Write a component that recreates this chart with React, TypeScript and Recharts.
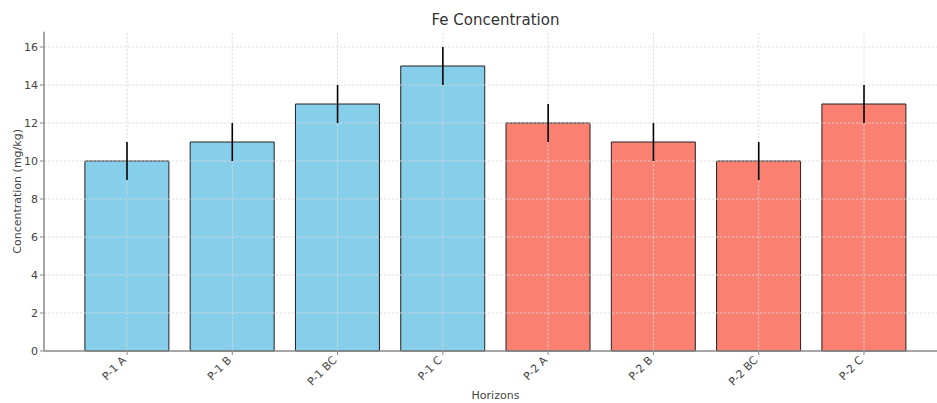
import React from 'react';
import { ComposedChart, Bar, XAxis, YAxis, Scatter, ErrorBar, Cell, ReferenceLine } from 'recharts';

const categories = ['P-1 A', 'P-1 B', 'P-1 BC', 'P-1 C', 'P-2 A', 'P-2 B', 'P-2 BC', 'P-2 C'];
const values = [10, 11, 13, 15, 12, 11, 10, 13];
const errors = [1, 1, 1, 1, 1, 1, 1, 1];
const colors = ['#87CEEB', '#87CEEB', '#87CEEB', '#87CEEB', '#FA8072', '#FA8072', '#FA8072', '#FA8072'];
const yTicks = [0, 2, 4, 6, 8, 10, 12, 14, 16];

const data = categories.map((c, i) => ({ name: c, value: values[i], err: errors[i] }));

const FONT = '"DejaVu Sans", sans-serif';
const TEXT = '#444';
const GRID = '#d8d8d8';

const XTick = (props: any) => {
  const { x, y, payload } = props;
  return (
    <g transform={`translate(${x - 3},${y + 1})`}>
      <text x={0} y={0} dy={4} textAnchor="end" transform="rotate(-45)" fontSize={11} fill={TEXT} fontFamily={FONT}>
        {payload.value}
      </text>
    </g>
  );
};

const NoDot = () => null;

export default function App() {
  return (
    <div style={{ position: 'fixed', left: 0, top: 0, width: 937, height: 403, overflow: 'hidden', background: '#fff' }}>
      <div style={{ position: 'absolute', left: 44, width: 903, top: 11, textAlign: 'center', fontFamily: FONT, fontSize: 15, color: '#333' }}>
        Fe Concentration
      </div>
      <ComposedChart width={947} height={403} data={data} margin={{ top: 31.8, right: 0, bottom: 0, left: 0 }} barCategoryGap="10%">
        <XAxis
          dataKey="name"
          height={52}
          padding={{ left: 30.35, right: 30.35 }}
          tick={<XTick />}
          tickSize={4}
          stroke="#888"
          strokeWidth={1.5}
          tickLine={{ stroke: '#888', strokeWidth: 1 }}
          interval={0}
          label={{
            content: (p: any) => {
              const vb = p.viewBox;
              return (
                <text x={vb.x + vb.width / 2} y={vb.y + vb.height - 4} textAnchor="middle" fontSize={11} fill={TEXT} fontFamily={FONT}>
                  Horizons
                </text>
              );
            },
          }}
        />
        <YAxis
          width={44}
          domain={[0, 16.8]}
          ticks={yTicks}
          tickSize={4}
          stroke="#888"
          strokeWidth={1.5}
          tickLine={{ stroke: '#888', strokeWidth: 1 }}
          tick={{ fontSize: 11, fill: TEXT, fontFamily: FONT }}
          label={{
            content: (p: any) => {
              const vb = p.viewBox;
              const cx = 17;
              const cy = vb.y + vb.height / 2;
              return (
                <text x={cx} y={cy} textAnchor="middle" transform={`rotate(-90, ${cx}, ${cy})`} dy={4} fontSize={11} fill={TEXT} fontFamily={FONT}>
                  Concentration (mg/kg)
                </text>
              );
            },
          }}
        />
        <Bar dataKey="value" isAnimationActive={false} stroke="#222" strokeWidth={1}>
          {data.map((d, i) => (
            <Cell key={d.name} fill={colors[i]} />
          ))}
        </Bar>
        {yTicks.slice(1).map((t) => (
          <ReferenceLine key={'y' + t} y={t} stroke={GRID} strokeDasharray="2.5 1.5" strokeWidth={0.8} />
        ))}
        {categories.map((c) => (
          <ReferenceLine key={'x' + c} x={c} stroke={GRID} strokeDasharray="2.5 1.5" strokeWidth={0.8} />
        ))}
        <Scatter dataKey="value" isAnimationActive={false} shape={<NoDot />}>
          <ErrorBar dataKey="err" direction="y" width={0} stroke="#000" strokeWidth={1.6} />
        </Scatter>
      </ComposedChart>
    </div>
  );
}
